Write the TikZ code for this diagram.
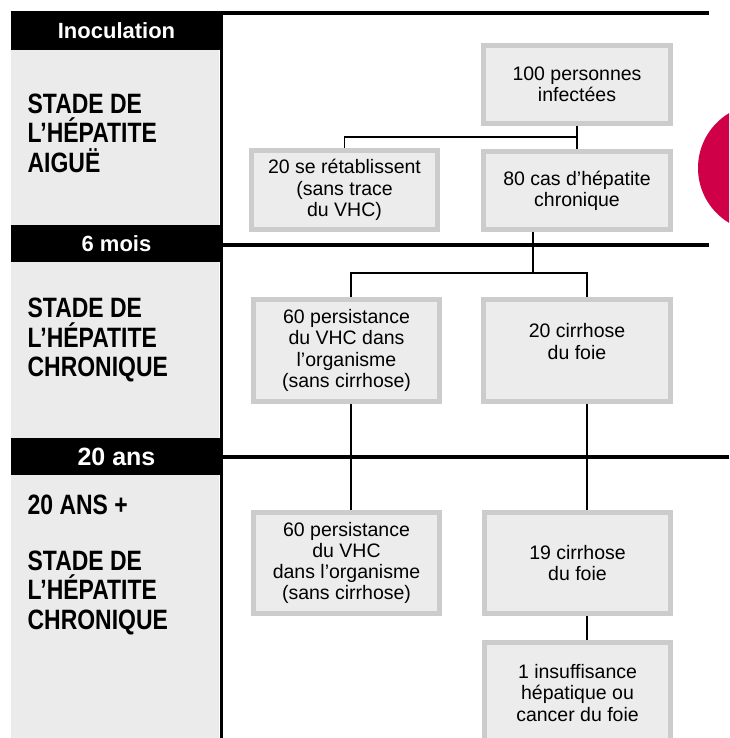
\documentclass[tikz,border=0pt]{standalone}
\usepackage{fontspec}
\setmainfont{Liberation Sans}
\newfontfamily\stagefont{Liberation Sans}[FakeStretch=0.82]
\usetikzlibrary{positioning}
\definecolor{panelgray}{RGB}{235,235,235}
\definecolor{boxfill}{RGB}{236,236,236}
\definecolor{boxline}{RGB}{204,204,204}
\definecolor{dotred}{RGB}{208,0,72}
\tikzset{every picture/.style={line width=1.3pt}}

\begin{document}
\begin{tikzpicture}[x=1pt, y=-1pt,
    stage/.style={anchor=west, align=left, inner sep=0pt, font=\stagefont\bfseries\fontsize{28}{29.5}\selectfont},
    tab/.style={fill=black, text=white, inner sep=0pt, minimum width=211, font=\bfseries\fontsize{22}{24}\selectfont},
    casebox/.style={draw=boxline, fill=boxfill, line width=5pt, align=center, inner sep=0pt, font=\fontsize{19.5}{21.2}\selectfont},
    rule/.style={line width=4pt}]
    \clip (0,0) rectangle (729,738);
    % left column
    \fill[panelgray] (11,50) rectangle (219,738);
    \node[tab, minimum height=39] (inoc) at (116.5,30.5) {Inoculation};
    \node[tab, minimum height=37] (six) at (116.5,243.5) {6 mois};
    \node[tab, minimum height=37, font=\bfseries\fontsize{25}{27}\selectfont] (twenty) at (116.5,456.5) {20 ans};
    \draw[line width=3pt] (221.5,11) -- (221.5,738);
    \draw[rule] (221,13) -- (709,13);
    \draw[rule] (221,244.5) -- (709,244.5);
    \draw[rule] (221,457) -- (729,457);
    \fill[dotred] (762,168) circle (64);
    \node[stage] (acute) at (27,133) {STADE DE\\L’HÉPATITE\\AIGUË};
    \node[stage] (chron) at (27,340) {STADE DE\\L’HÉPATITE\\CHRONIQUE};
    \node[stage] (plus) at (27,505) {20 ANS +};
    \node[stage] (chron2) at (27,592.5) {STADE DE\\L’HÉPATITE\\CHRONIQUE};
    % cases
    \node[casebox, minimum width=187, minimum height=78] (infect) at (577,84.5) {100 personnes\\infectées};
    \node[casebox, minimum width=186, minimum height=79] (heal) at (344.5,190) {20 se rétablissent\\(sans trace\\du VHC)};
    \node[casebox, minimum width=187, minimum height=78] (chr) at (577,190.5) {80 cas d’hépatite\\chronique};
    \node[casebox, minimum width=186, minimum height=102] (pers) at (346.5,350.5) {60 persistance\\du VHC dans\\l’organisme\\(sans cirrhose)};
    \node[casebox, minimum width=187, minimum height=102] (cirr) at (577,350.5) {20 cirrhose\\du foie\\[-3.2pt]};
    \node[casebox, minimum width=186, minimum height=101] (pers2) at (346.5,563) {60 persistance\\du VHC\\dans l’organisme\\(sans cirrhose)};
    \node[casebox, minimum width=186, minimum height=101] (cirr2) at (577.5,563) {19 cirrhose\\du foie};
    \node[casebox, minimum width=186, minimum height=101] (fail) at (577.5,693) {1 insuffisance\\hépatique ou\\cancer du foie};
    % links
    \coordinate (fork1) at (578,137);
    \coordinate (fork2) at (533,273);
    \draw (infect.south) -- (infect.south |- fork1) -| (heal.north);
    \draw (infect.south) -- (chr.north);
    \draw ([xshift=-44]chr.south) -- (fork2);
    \draw ([xshift=4.5]pers.north) |- (fork2) -| ([xshift=10]cirr.north);
    \draw ([xshift=4.5]pers.south) -- ([xshift=4.5]pers2.north);
    \draw ([xshift=10]cirr.south) -- ([xshift=9.5]cirr2.north);
    \draw ([xshift=9.5]cirr2.south) -- ([xshift=9.5]fail.north);
\end{tikzpicture}
\end{document}
